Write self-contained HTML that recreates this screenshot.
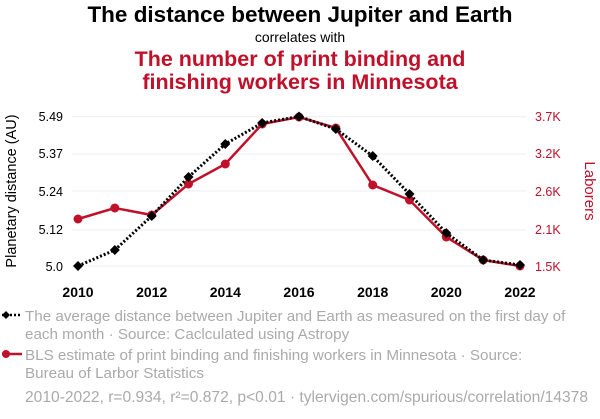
<!DOCTYPE html>
<html><head><meta charset="utf-8"><style>
body{margin:0;background:#fff;width:600px;height:414px;overflow:hidden;font-family:"Liberation Sans",sans-serif}
</style></head><body>
<svg width="600" height="414" xmlns="http://www.w3.org/2000/svg" font-family="Liberation Sans, sans-serif">
<text x="300" y="22" text-anchor="middle" font-size="22.5" font-weight="bold" fill="#000">The distance between Jupiter and Earth</text>
<text x="300" y="42" text-anchor="middle" font-size="14" fill="#000">correlates with</text>
<text x="300" y="66" text-anchor="middle" font-size="21.5" font-weight="bold" fill="#c0102a">The number of print binding and</text>
<text x="300" y="89" text-anchor="middle" font-size="21.5" font-weight="bold" fill="#c0102a">finishing workers in Minnesota</text>
<g stroke="#eee" stroke-width="1">
<line x1="72" x2="526" y1="116.7" y2="116.7"/><line x1="72" x2="526" y1="154" y2="154"/><line x1="72" x2="526" y1="191" y2="191"/><line x1="72" x2="526" y1="230" y2="230"/><line x1="72" x2="526" y1="266" y2="266"/>
</g>
<g font-size="12.5" fill="#000" text-anchor="end">
<text x="63" y="121">5.49</text><text x="63" y="158">5.37</text><text x="63" y="196">5.24</text><text x="63" y="234">5.12</text><text x="63" y="271">5.0</text>
</g>
<g font-size="12.5" fill="#c0102a">
<text x="535" y="121">3.7K</text><text x="535" y="158">3.2K</text><text x="535" y="196">2.6K</text><text x="535" y="234">2.1K</text><text x="535" y="271">1.5K</text>
</g>
<g font-size="14" font-weight="bold" fill="#000" text-anchor="middle">
<text x="78" y="297">2010</text><text x="151.7" y="297">2012</text><text x="225.3" y="297">2014</text><text x="299" y="297">2016</text><text x="372.7" y="297">2018</text><text x="446.3" y="297">2020</text><text x="520" y="297">2022</text>
</g>
<text transform="translate(16,191) rotate(-90)" text-anchor="middle" font-size="14.5" fill="#000">Planetary distance (AU)</text>
<text transform="translate(585,191) rotate(90)" text-anchor="middle" font-size="15" fill="#c0102a">Laborers</text>
<polyline fill="none" stroke="#c0102a" stroke-width="2.5" points="78,219 114.8,208 151.7,215 188.5,184 225.3,164 262.2,124 299,117 335.8,128 372.7,185 409.5,200 446.3,237 483.2,260 520,266"/>
<g fill="#c0102a">
<circle cx="78" cy="219" r="4.5"/><circle cx="114.8" cy="208" r="4.5"/><circle cx="151.7" cy="215" r="4.5"/><circle cx="188.5" cy="184" r="4.5"/><circle cx="225.3" cy="164" r="4.5"/><circle cx="262.2" cy="124" r="4.5"/><circle cx="299" cy="117" r="4.5"/><circle cx="335.8" cy="128" r="4.5"/><circle cx="372.7" cy="185" r="4.5"/><circle cx="409.5" cy="200" r="4.5"/><circle cx="446.3" cy="237" r="4.5"/><circle cx="483.2" cy="260" r="4.5"/><circle cx="520" cy="266" r="4.5"/>
</g>
<polyline fill="none" stroke="#000" stroke-width="3" stroke-dasharray="2,2" points="78,266 114.8,250 151.7,216 188.5,177 225.3,144 262.2,123 299,116.5 335.8,129 372.7,156 409.5,194 446.3,233 483.2,260 520,265"/>
<g fill="#000">
<path d="M78,261l5,5l-5,5l-5,-5z"/><path d="M114.8,245l5,5l-5,5l-5,-5z"/><path d="M151.7,211l5,5l-5,5l-5,-5z"/><path d="M188.5,172l5,5l-5,5l-5,-5z"/><path d="M225.3,139l5,5l-5,5l-5,-5z"/><path d="M262.2,118l5,5l-5,5l-5,-5z"/><path d="M299,111.5l5,5l-5,5l-5,-5z"/><path d="M335.8,124l5,5l-5,5l-5,-5z"/><path d="M372.7,151l5,5l-5,5l-5,-5z"/><path d="M409.5,189l5,5l-5,5l-5,-5z"/><path d="M446.3,228l5,5l-5,5l-5,-5z"/><path d="M483.2,255l5,5l-5,5l-5,-5z"/><path d="M520,260l5,5l-5,5l-5,-5z"/>
</g>
<line x1="2" x2="22" y1="315" y2="315" stroke="#000" stroke-width="2.5" stroke-dasharray="2,2"/>
<path d="M6,311l4,4l-4,4l-4,-4z" fill="#000"/>
<g font-size="15.2" fill="#aaa">
<text x="25" y="321">The average distance between Jupiter and Earth as measured on the first day of</text>
<text x="25" y="339">each month · Source: Caclculated using Astropy</text>
<text x="25" y="360">BLS estimate of print binding and finishing workers in Minnesota · Source:</text>
<text x="25" y="378">Bureau of Larbor Statistics</text>
<text x="25" y="402" font-size="15.6">2010-2022, r=0.934, r²=0.872, p&lt;0.01 · tylervigen.com/spurious/correlation/14378</text>
</g>
<line x1="2" x2="22" y1="354" y2="354" stroke="#c0102a" stroke-width="2.5"/>
<circle cx="6" cy="354" r="4" fill="#c0102a"/>
</svg>
</body></html>
